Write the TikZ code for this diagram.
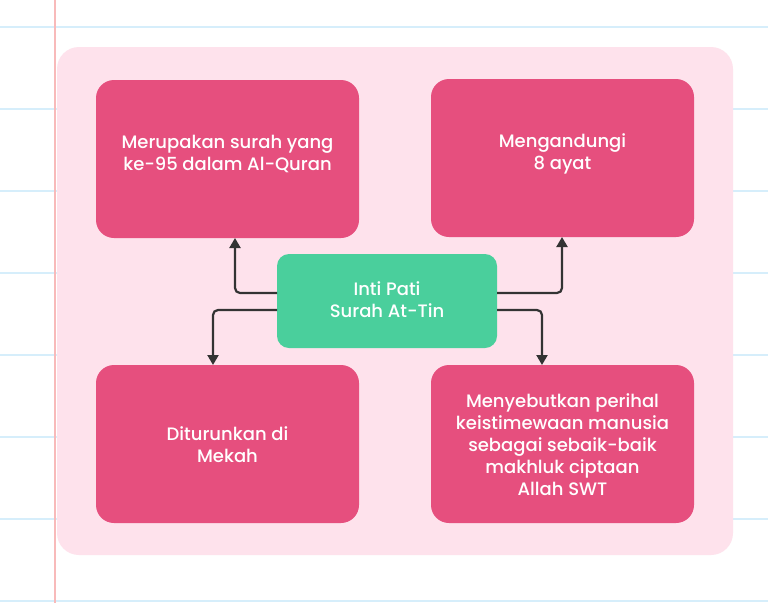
\documentclass[tikz,border=0pt]{standalone}
\usepackage{fontspec}
\setmainfont{Poppins}[UprightFont=* Medium]
\usetikzlibrary{arrows.meta}
\definecolor{paperline}{HTML}{D6EEFB}
\definecolor{marginline}{HTML}{F8BABA}
\definecolor{panelpink}{HTML}{FEE2EC}
\definecolor{boxmag}{HTML}{E64F7E}
\definecolor{boxgreen}{HTML}{4ACF9C}
\definecolor{arrowdark}{HTML}{333333}
\tikzset{
  x=1pt, y=-1pt,
  infobox/.style={fill=boxmag, rounded corners=18pt, draw=none},
  centerbox/.style={fill=boxgreen, rounded corners=12pt, draw=none},
  boxtext/.style={text=white, align=center, font=\fontsize{18}{22}\selectfont, inner sep=0pt},
  conn/.style={draw=arrowdark, line width=2.2pt, rounded corners=5pt, -{Triangle[length=10pt,width=11pt]}},
}
\begin{document}
\begin{tikzpicture}
\useasboundingbox (0,0) rectangle (768,603);
\fill[white] (0,0) rectangle (768,603);
% notebook lines
\foreach \yy in {27,109,191,273,355,437,519,601} {
  \draw[paperline, line width=1.5pt] (0,\yy) -- (768,\yy);
}
\draw[marginline, line width=1.5pt] (55,0) -- (55,603);
% panel
\fill[panelpink, rounded corners=22pt] (57,47) rectangle (733,555);
% boxes
\path[infobox] (96,80) rectangle (359,238);
\node[boxtext] (tl) at (227.5,154) {Merupakan surah yang\\ke-95 dalam Al-Quran};
\path[infobox] (431,79) rectangle (694,237);
\node[boxtext] (tr) at (562.5,154) {Mengandungi\\8 ayat};
\path[infobox] (96,365) rectangle (359,523);
\node[boxtext] (bl) at (227.5,445) {Diturunkan di\\Mekah};
\path[infobox] (431,365) rectangle (694,523);
\node[boxtext] (br) at (562.5,445) {Menyebutkan perihal\\keistimewaan manusia\\sebagai sebaik-baik\\makhluk ciptaan\\Allah SWT};
\path[centerbox] (277,254) rectangle (497,348);
\node[boxtext] (c) at (387,300) {Inti Pati\\Surah At-Tin};
% connector anchors
\coordinate (cL1) at (277,293);
\coordinate (cL2) at (277,310);
\coordinate (cR1) at (497,293);
\coordinate (cR2) at (497,310);
\coordinate (tlB) at (235,238);
\coordinate (trB) at (562,237);
\coordinate (blT) at (213,365);
\coordinate (brT) at (542,365);
\draw[conn] (cL1) -| (tlB);
\draw[conn] (cL2) -| (blT);
\draw[conn] (cR1) -| (trB);
\draw[conn] (cR2) -| (brT);
\end{tikzpicture}
\end{document}
